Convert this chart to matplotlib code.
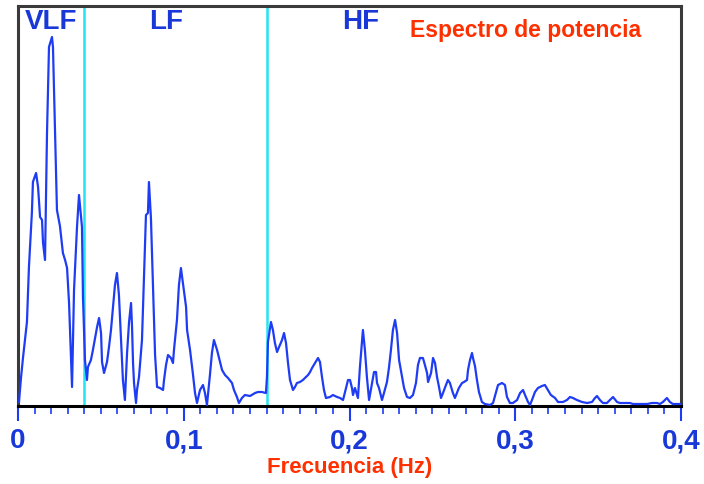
import matplotlib
matplotlib.use("Agg")
import matplotlib.pyplot as plt
from matplotlib.ticker import MultipleLocator, FuncFormatter

# espectro de potencia de la VFC (unidades arbitrarias)
freq = [
    0.0006, 0.0018, 0.0030, 0.0054, 0.0066, 0.0084, 0.0090, 0.0109, 0.0121, 0.0133,
    0.0145, 0.0151, 0.0163, 0.0175, 0.0187, 0.0205, 0.0211, 0.0223, 0.0235, 0.0253,
    0.0271, 0.0284, 0.0296, 0.0308, 0.0320, 0.0326, 0.0338, 0.0356, 0.0368, 0.0386,
    0.0392, 0.0404, 0.0416,
    0.0422, 0.0440, 0.0452, 0.0465, 0.0477, 0.0489, 0.0501, 0.0507, 0.0519, 0.0537,
    0.0549, 0.0561, 0.0573, 0.0585, 0.0597, 0.0609, 0.0621, 0.0633, 0.0645, 0.0658,
    0.0670, 0.0682, 0.0688, 0.0694, 0.0700, 0.0712, 0.0718, 0.0730, 0.0748, 0.0760,
    0.0772, 0.0784, 0.0790, 0.0802, 0.0814, 0.0827, 0.0839, 0.0857, 0.0875, 0.0881,
    0.0893, 0.0905, 0.0923, 0.0935, 0.0941, 0.0959, 0.0971, 0.0983, 0.0995, 0.1014,
    0.1020, 0.1038, 0.1056, 0.1068, 0.1080, 0.1098, 0.1116, 0.1128, 0.1140, 0.1158,
    0.1170, 0.1182, 0.1201, 0.1213, 0.1231, 0.1249, 0.1267, 0.1291, 0.1303, 0.1321,
    0.1333, 0.1351, 0.1369, 0.1400, 0.1430, 0.1448, 0.1472, 0.1496,
    0.1502, 0.1508, 0.1526, 0.1538, 0.1550, 0.1563, 0.1575, 0.1593, 0.1605, 0.1617,
    0.1629, 0.1641, 0.1659, 0.1671, 0.1683, 0.1701, 0.1719, 0.1731, 0.1750, 0.1762,
    0.1774, 0.1792, 0.1810, 0.1822, 0.1834, 0.1846, 0.1858, 0.1882, 0.1900, 0.1925,
    0.1943, 0.1961, 0.1973, 0.1991, 0.2003, 0.2015, 0.2021, 0.2033, 0.2051, 0.2063,
    0.2075, 0.2081, 0.2093, 0.2105, 0.2118, 0.2136, 0.2148, 0.2160, 0.2166, 0.2178,
    0.2196, 0.2208, 0.2226, 0.2238, 0.2250, 0.2262, 0.2275, 0.2287, 0.2299, 0.2317,
    0.2329, 0.2347, 0.2365, 0.2383, 0.2401, 0.2413, 0.2425, 0.2443, 0.2450, 0.2468,
    0.2474, 0.2492, 0.2504, 0.2516, 0.2528, 0.2540, 0.2552, 0.2564, 0.2582, 0.2594,
    0.2606, 0.2624, 0.2636, 0.2648, 0.2660, 0.2679, 0.2691, 0.2709, 0.2715, 0.2727,
    0.2739, 0.2745, 0.2757, 0.2769, 0.2781, 0.2799, 0.2817, 0.2848, 0.2866, 0.2884,
    0.2896, 0.2920, 0.2938, 0.2950, 0.2968, 0.2986, 0.3011, 0.3029, 0.3047, 0.3059,
    0.3077, 0.3089, 0.3101, 0.3119, 0.3137, 0.3161, 0.3179, 0.3197, 0.3215, 0.3240,
    0.3258, 0.3288, 0.3312, 0.3330, 0.3348, 0.3372, 0.3403, 0.3433, 0.3463, 0.3481,
    0.3493, 0.3511, 0.3529, 0.3553, 0.3571, 0.3590, 0.3614, 0.3632, 0.3692, 0.3710,
    0.3795, 0.3825, 0.3855, 0.3873, 0.3891, 0.3915, 0.3933, 0.3951, 0.3994,
]
power = [
    4, 28, 48, 84, 139, 194, 224, 233, 219, 189,
    186, 163, 146, 273, 359, 369, 359, 279, 196, 180,
    153, 146, 138, 103, 49, 19, 116, 179, 211, 179,
    109, 46, 26,
    39, 46, 56, 68, 79, 88, 73, 44, 33, 44,
    59, 76, 98, 121, 133, 111, 68, 26, 6, 53,
    84, 103, 79, 43, 23, 3, 16, 29, 66, 129,
    191, 193, 224, 188, 121, 51, 19, 18, 16, 26,
    41, 51, 48, 43, 56, 86, 121, 138, 123, 99,
    76, 56, 31, 13, 3, 16, 21, 13, 1, 31,
    53, 66, 56, 48, 36, 31, 28, 23, 16, 9,
    3, 8, 11, 10, 13, 14, 14, 13,
    29, 64, 84, 76, 63, 54, 59, 66, 73, 63,
    43, 26, 16, 19, 23, 24, 26, 28, 31, 34,
    38, 43, 48, 44, 29, 16, 8, 9, 11, 9,
    8, 6, 14, 26, 26, 18, 11, 18, 8, 39,
    63, 76, 56, 29, 6, 23, 34, 34, 23, 18,
    6, 13, 24, 38, 56, 76, 86, 73, 46, 29,
    18, 9, 8, 11, 23, 41, 48, 48, 44, 33,
    24, 33, 48, 43, 29, 19, 8, 13, 21, 26,
    23, 13, 8, 13, 18, 23, 24, 26, 36, 46,
    53, 48, 40, 26, 14, 4, 2, 1, 3, 14,
    21, 23, 21, 9, 3, 3, 6, 13, 16, 11,
    4, 1, 6, 14, 18, 20, 21, 16, 11, 8,
    4, 4, 6, 9, 8, 6, 4, 3, 4, 8,
    10, 6, 3, 3, 6, 9, 4, 3, 3, 2,
    2, 3, 3, 2, 4, 8, 4, 2, 2,
]

# límites de bandas (Hz)
band_edges = [0.04, 0.15]
band_names = ["VLF", "LF", "HF"]
band_label_x = [0.0202, 0.0896, 0.2066]
xticks = [0, 0.1, 0.2, 0.3, 0.4]

blue = "#1f3cf5"
label_blue = "#1838d8"
red = "#ff3000"
font = ["Liberation Sans", "DejaVu Sans"]

fig = plt.figure(figsize=(7.04, 4.84), dpi=100)
ax = fig.add_axes([18 / 704, 78 / 484, 663 / 704, 400 / 484])

ax.plot(freq, power, color=blue, lw=1.6, zorder=3)
for edge in band_edges:
    ax.axvline(edge, color="#22e4f2", lw=1.8, zorder=2)

ax.set_xlim(0, 0.4)
ax.set_ylim(0, 400)

for name, x in zip(band_names, band_label_x):
    ax.text(x, 384, name, color=label_blue, fontsize=20, fontweight="bold",
            family=font, ha="center", va="center")

ax.text(0.766, 0.94, "Espectro de potencia", transform=ax.transAxes,
        color=red, fontsize=16.5, fontweight="bold",
        family=font, ha="center", va="center")

ax.set_xticks(xticks)
ax.xaxis.set_minor_locator(MultipleLocator(0.01))
ax.xaxis.set_major_formatter(FuncFormatter(lambda v, p: ("%g" % v).replace(".", ",")))
ax.set_yticks([])
ax.tick_params(axis="x", which="major", direction="out", length=11, width=1.5,
               color=blue, labelcolor=label_blue, labelsize=20, pad=5)
ax.tick_params(axis="x", which="minor", direction="out", length=6, width=1.2,
               color=blue)
for lab in ax.get_xticklabels():
    lab.set_fontweight("bold")
    lab.set_family(font)

ax.set_xlabel("Frecuencia (Hz)", color=red, fontsize=16, fontweight="bold",
              family=font, labelpad=2)

for side in ["left", "top", "right"]:
    ax.spines[side].set_color("#3a3a3a")
    ax.spines[side].set_linewidth(2.2)
ax.spines["bottom"].set_color("black")
ax.spines["bottom"].set_linewidth(2.2)

fig.savefig("out.png", dpi=100)
